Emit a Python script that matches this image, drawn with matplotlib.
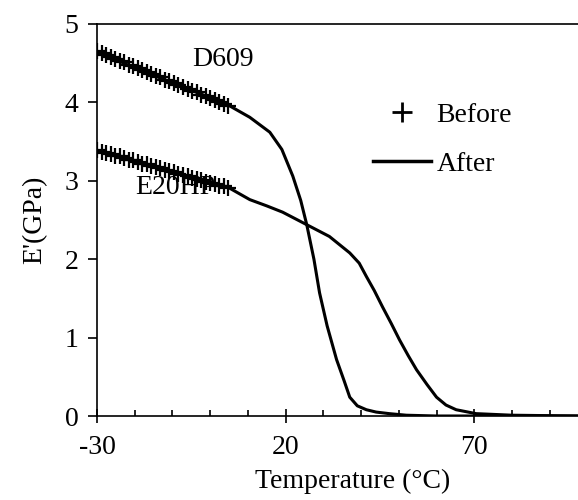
import matplotlib
matplotlib.use("Agg")
import matplotlib.pyplot as plt
from matplotlib.lines import Line2D
from matplotlib.ticker import MultipleLocator

plt.rcParams['font.family'] = 'Liberation Serif'
plt.rcParams['axes.unicode_minus'] = False

# "Before" measurements (crosses)
t_before = [-30, -28.8, -27.6, -26.4, -25.2, -24, -22.8, -21.6, -20.4, -19.2, -18, -16.8,
            -15.6, -14.4, -13.2, -12, -10.8, -9.6, -8.4, -7.2, -6, -4.8, -3.6, -2.4, -1.2,
            0, 1.2, 2.4, 3.6, 4.8]
d609_before = [4.65, 4.63, 4.60, 4.58, 4.55, 4.53, 4.51, 4.48, 4.46, 4.44, 4.41, 4.39,
               4.36, 4.34, 4.32, 4.29, 4.27, 4.25, 4.22, 4.20, 4.17, 4.15, 4.13, 4.10,
               4.08, 4.05, 4.03, 4.01, 3.98, 3.96]
e20hp_before = [3.39, 3.37, 3.36, 3.34, 3.32, 3.31, 3.29, 3.27, 3.26, 3.24, 3.22, 3.21,
                3.19, 3.17, 3.16, 3.14, 3.12, 3.11, 3.09, 3.07, 3.06, 3.04, 3.02, 3.01,
                2.99, 2.97, 2.96, 2.94, 2.93, 2.91]

# "After" curves (solid lines)
t_d609 = [-30, -20, -10, 0, 5, 10.5, 15.8, 19, 21.9, 24, 25.6, 27.5, 29, 31, 33.5,
          35.5, 37, 39, 41.4, 44, 47.5, 52, 60, 70, 80, 97.5]
d609_after = [4.65, 4.44, 4.25, 4.06, 3.96, 3.81, 3.62, 3.40, 3.06, 2.75, 2.44, 2.0,
              1.57, 1.15, 0.72, 0.45, 0.24, 0.13, 0.08, 0.05, 0.03, 0.01, 0.0, 0.0, 0.0, 0.0]
t_e20hp = [-30, -20, -10, 0, 5, 10.5, 15, 19.2, 25.6, 31.6, 37, 39.5, 41.4, 43.5, 45.7,
           48, 50.2, 52.5, 54.7, 57.5, 60, 62.5, 65.2, 70.5, 80, 97.5]
e20hp_after = [3.39, 3.25, 3.12, 2.98, 2.91, 2.76, 2.68, 2.6, 2.44, 2.29, 2.08, 1.95,
               1.78, 1.60, 1.39, 1.18, 0.97, 0.77, 0.59, 0.40, 0.24, 0.14, 0.08, 0.03,
               0.01, 0.0]

FS = 20

fig = plt.figure(figsize=(5.78, 5.0), dpi=100)
ax = fig.add_axes([97 / 578, 84 / 500, 481 / 578, 392 / 500])

ax.plot(t_d609, d609_after, color='black', lw=2.2)
ax.plot(t_e20hp, e20hp_after, color='black', lw=2.2)
ax.plot(t_before, d609_before, ls='none', marker='+', ms=12, mew=1.6, color='black')
ax.plot(t_before, e20hp_before, ls='none', marker='+', ms=12, mew=1.6, color='black')

ax.text(3.3, 4.55, 'D609', fontsize=FS, ha='center', va='center')
ax.text(-9.2, 2.92, 'E20HP', fontsize=FS, ha='center', va='center')

handles = [Line2D([], [], ls='none', marker='+', ms=14, mew=2, color='black'),
           Line2D([], [], color='black', lw=2.5)]
ax.legend(handles, ['Before', 'After'], loc='upper left', bbox_to_anchor=(0.574, 0.80),
          frameon=False, fontsize=FS, handlelength=2.1, handletextpad=0.18,
          labelspacing=0.85, borderpad=0, borderaxespad=0)

ax.set_xlim(-30, 97.5)
ax.set_ylim(0, 5)
ax.xaxis.set_minor_locator(MultipleLocator(10))
ax.set_xticks([-30, 20, 70])
ax.set_yticks([0, 1, 2, 3, 4, 5])

for s in ['left', 'bottom', 'top']:
    ax.spines[s].set_linewidth(1.2)
ax.spines['right'].set_visible(False)

ax.tick_params(axis='x', which='major', direction='inout', length=10, width=1.2,
               pad=9, labelsize=FS)
ax.tick_params(axis='x', which='minor', direction='in', length=4, width=1.2)
ax.tick_params(axis='y', which='major', direction='out', length=6.5, width=1.2,
               pad=7, labelsize=FS)

ax.set_xlabel('Temperature (°C)', fontsize=FS)
ax.xaxis.set_label_coords(0.532, -0.135)
ax.set_ylabel("E'(GPa)", fontsize=FS, labelpad=12)

fig.savefig('out.png', dpi=100)
